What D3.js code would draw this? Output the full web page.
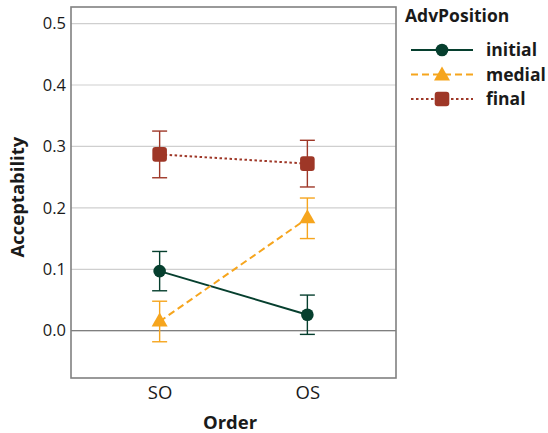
<!DOCTYPE html>
<html><head><meta charset="utf-8">
<script src="https://cdn.jsdelivr.net/npm/d3@7"></script>
<style>body{margin:0;background:#fff}svg{display:block}text{font-family:"Open Sans",sans-serif;fill:#1a1a1a}</style>
</head><body><svg id="c" width="548" height="433"></svg>
<script>
const categories = ["SO", "OS"];
const seriesNames = ["initial", "medial", "final"];
const initialMean = [0.097, 0.026];
const initialErr = [0.032, 0.032];
const medialMean = [0.015, 0.183];
const medialErr = [0.033, 0.033];
const finalMean = [0.287, 0.272];
const finalErr = [0.038, 0.038];
const yTicks = [0.0, 0.1, 0.2, 0.3, 0.4, 0.5];
const colors = ["#063f2e", "#f6a51d", "#9e3727"];
const dashes = [null, "7,4", "2.5,2.5"];
const shapes = ["circle", "triangle", "square"];

const means = [initialMean, medialMean, finalMean];
const errs = [initialErr, medialErr, finalErr];

const svg = d3.select("#c");
const P = {l: 71, r: 396, t: 7, b: 378};
const y = d3.scaleLinear().domain([-0.077, 0.527]).range([P.b, P.t]);
const x = d3.scalePoint().domain(categories).range([P.l, P.r]).padding(0.6);

// grid
svg.append("g").selectAll("line").data(yTicks.filter(d => d !== 0)).join("line")
  .attr("x1", P.l).attr("x2", P.r).attr("y1", d => y(d)).attr("y2", d => y(d))
  .attr("stroke", "#cfcfcf").attr("stroke-width", 1.2);
svg.append("line").attr("x1", P.l).attr("x2", P.r).attr("y1", y(0)).attr("y2", y(0))
  .attr("stroke", "#555").attr("stroke-width", 1.1);

// y axis labels
const ya = svg.append("g").attr("transform", `translate(${P.l},0)`)
  .call(d3.axisLeft(y).tickValues(yTicks).tickFormat(d3.format(".1f")).tickSize(0).tickPadding(5));
ya.select(".domain").remove();
ya.selectAll("text").attr("font-size", 16.5).attr("fill", "#222").style("font-family", '"Open Sans",sans-serif');

// x axis labels
const xa = svg.append("g").attr("transform", `translate(0,${P.b})`)
  .call(d3.axisBottom(x).tickSize(0).tickPadding(8));
xa.select(".domain").remove();
xa.selectAll("text").attr("font-size", 18.5).attr("fill", "#222").style("font-family", '"Open Sans",sans-serif');

// panel border
svg.append("rect").attr("x", P.l).attr("y", P.t).attr("width", P.r - P.l).attr("height", P.b - P.t)
  .attr("fill", "none").attr("stroke", "#808080").attr("stroke-width", 1.6);

function drawShape(g, shape, cx, cy, col) {
  if (shape === "circle") g.append("circle").attr("cx", cx).attr("cy", cy).attr("r", 6.3).attr("fill", col);
  else if (shape === "square") g.append("rect").attr("x", cx - 7.3).attr("y", cy - 7.3).attr("width", 14.6).attr("height", 14.6).attr("rx", 3).attr("fill", col);
  else g.append("path").attr("d", `M${cx},${cy - 9}L${cx + 8},${cy + 5}L${cx - 8},${cy + 5}Z`).attr("fill", col);
}

const plot = svg.append("g");
seriesNames.forEach((s, i) => {
  const col = colors[i];
  categories.forEach((c, j) => {
    const cx = x(c), hi = y(means[i][j] + errs[i][j]), lo = y(means[i][j] - errs[i][j]);
    plot.append("line").attr("x1", cx).attr("x2", cx).attr("y1", hi).attr("y2", lo).attr("stroke", col).attr("stroke-width", 1.4);
    [hi, lo].forEach(v => plot.append("line").attr("x1", cx - 7.5).attr("x2", cx + 7.5).attr("y1", v).attr("y2", v).attr("stroke", col).attr("stroke-width", 1.4));
  });
});
seriesNames.forEach((s, i) => {
  const line = d3.line().x((d, j) => x(categories[j])).y(d => y(d));
  plot.append("path").attr("d", line(means[i])).attr("fill", "none").attr("stroke", colors[i])
    .attr("stroke-width", 2).attr("stroke-dasharray", dashes[i]);
});
seriesNames.forEach((s, i) => {
  categories.forEach((c, j) => drawShape(plot, shapes[i], x(c), y(means[i][j]), colors[i]));
});

// titles
svg.append("text").attr("x", 230).attr("y", 429).attr("text-anchor", "middle")
  .attr("font-size", 18.5).attr("font-weight", "bold").text("Order");
svg.append("text").attr("transform", `translate(24,${(y(0.2)+y(0.3))/2 + 20}) rotate(-90)`).attr("text-anchor", "middle")
  .attr("font-size", 18.5).attr("font-weight", "bold").text("Acceptability");

// legend
const lg = svg.append("g");
lg.append("text").attr("x", 405).attr("y", 22).attr("font-size", 17.5).attr("font-weight", "bold").text("AdvPosition");
seriesNames.forEach((s, i) => {
  const cy = 50 + i * 24.5;
  lg.append("line").attr("x1", 411).attr("x2", 473).attr("y1", cy).attr("y2", cy)
    .attr("stroke", colors[i]).attr("stroke-width", 2).attr("stroke-dasharray", dashes[i]);
  drawShape(lg, shapes[i], 442, cy + (shapes[i] === "triangle" ? 1 : 0), colors[i]);
  lg.append("text").attr("x", 486).attr("y", cy).attr("dy", "0.35em").attr("font-size", 17.5).attr("font-weight", "bold").text(s);
});
</script></body></html>
